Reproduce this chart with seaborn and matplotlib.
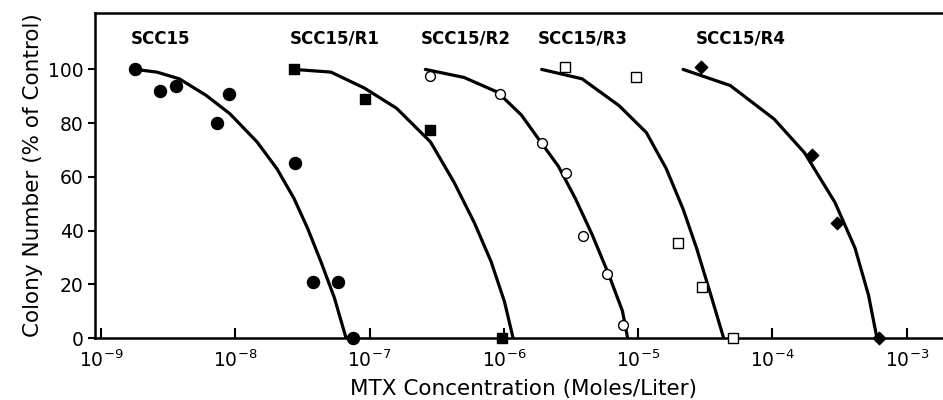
import numpy as np
import pandas as pd
import matplotlib
matplotlib.use("Agg")
import matplotlib.pyplot as plt
from matplotlib.ticker import NullLocator, LogFormatterMathtext
import seaborn as sns

# ---- data ----
series_names = ["SCC15", "SCC15/R1", "SCC15/R2", "SCC15/R3", "SCC15/R4"]

scc15_x = [1.80e-9, 2.75e-9, 3.61e-9, 7.31e-9, 8.99e-9, 2.76e-8, 3.77e-8, 5.85e-8, 7.53e-8]
scc15_y = [100, 92, 94, 80, 91, 65, 21, 21, 0]
scc15_fit_x = [1.80e-9, 2.60e-9, 3.82e-9, 6.07e-9, 9.10e-9, 1.45e-8, 2.04e-8, 2.73e-8, 3.44e-8, 4.33e-8, 5.46e-8, 6.67e-8]
scc15_fit_y = [100, 99, 96.5, 90.3, 83.5, 73, 63, 52, 41, 28.5, 15, 0]

r1_x = [2.72e-8, 9.18e-8, 2.83e-7, 9.70e-7]
r1_y = [100, 89, 77.5, 0]
r1_fit_x = [2.73e-8, 5.15e-8, 9.18e-8, 1.59e-7, 2.84e-7, 4.25e-7, 6.01e-7, 8.02e-7, 1.01e-6, 1.17e-6]
r1_fit_y = [100, 99, 93, 85.5, 73, 58, 43, 28.5, 13.5, 0]

r2_x = [2.80e-7, 9.42e-7, 1.91e-6, 2.91e-6, 3.89e-6, 5.82e-6, 7.76e-6]
r2_y = [97.5, 91, 72.5, 61.5, 38, 24, 5]
r2_fit_x = [2.60e-7, 5.05e-7, 8.99e-7, 1.35e-6, 1.91e-6, 2.54e-6, 3.40e-6, 4.54e-6, 6.05e-6, 7.64e-6, 8.34e-6]
r2_fit_y = [100, 97, 91.5, 83, 72.5, 64, 52, 38.5, 23.5, 10, 0]

r3_x = [2.86e-6, 9.62e-6, 1.98e-5, 2.97e-5, 5.05e-5]
r3_y = [101, 97, 35.5, 19, 0]
r3_fit_x = [1.91e-6, 3.82e-6, 7.21e-6, 1.15e-5, 1.62e-5, 2.16e-5, 2.72e-5, 3.43e-5, 4.33e-5]
r3_fit_y = [100, 96.5, 86.5, 76.5, 63, 48, 33.5, 17, 0]

r4_x = [2.92e-5, 1.97e-4, 3.03e-4, 6.18e-4]
r4_y = [101, 68, 43, 0]
r4_fit_x = [2.16e-5, 4.85e-5, 1.03e-4, 1.73e-4, 2.92e-4, 4.12e-4, 5.19e-4, 6.00e-4]
r4_fit_y = [100, 94, 81.5, 69, 50.5, 33.5, 16, 0]

x_ticks = [1e-9, 1e-8, 1e-7, 1e-6, 1e-5, 1e-4, 1e-3]
y_ticks = [0, 20, 40, 60, 80, 100]
x_label = "MTX Concentration (Moles/Liter)"
y_label = "Colony Number (% of Control)"

# ---- style ----
sns.set_style("ticks")
plt.rcParams["font.family"] = ["DejaVu Sans"]
plt.rcParams["mathtext.default"] = "regular"
plt.rcParams["text.color"] = "black"
plt.rcParams["axes.labelcolor"] = "black"
plt.rcParams["xtick.color"] = "black"
plt.rcParams["ytick.color"] = "black"
plt.rcParams["lines.solid_joinstyle"] = "round"

fig = plt.figure(figsize=(9.43, 4.0), dpi=100)
ax = fig.add_axes([0.1007, 0.155, 0.9093, 0.8125])

styles = [
    dict(marker="o", facecolor="black", size=75),
    dict(marker="s", facecolor="black", size=60),
    dict(marker="o", facecolor="white", size=50),
    dict(marker="s", facecolor="white", size=50),
    dict(marker="D", facecolor="black", size=40),
]
label_shift = [0.93, 0.93, 0.93, 0.93, 1.25]
points = [(scc15_x, scc15_y), (r1_x, r1_y), (r2_x, r2_y), (r3_x, r3_y), (r4_x, r4_y)]
fits = [(scc15_fit_x, scc15_fit_y), (r1_fit_x, r1_fit_y), (r2_fit_x, r2_fit_y),
        (r3_fit_x, r3_fit_y), (r4_fit_x, r4_fit_y)]

for name, (fx, fy), (px, py), st, sh in zip(series_names, fits, points, styles, label_shift):
    fdf = pd.DataFrame({"x": fx, "y": fy})
    sns.lineplot(data=fdf, x="x", y="y", ax=ax, color="black", linewidth=2.3,
                 sort=False, estimator=None, legend=False)
    pdf = pd.DataFrame({"x": px, "y": py})
    sns.scatterplot(data=pdf, x="x", y="y", ax=ax, marker=st["marker"],
                    s=st["size"], color=st["facecolor"], edgecolor="black",
                    linewidth=1.0, zorder=5, legend=False, clip_on=False)
    ax.text(fx[0] * sh, 111.5, name, ha="left", va="center",
            fontsize=12, fontweight="bold", color="black")

ax.set_xscale("log")
ax.set_xlim(9.0e-10, 2.19e-3)
ax.set_ylim(0, 121)
ax.set_xticks(x_ticks)
ax.xaxis.set_major_formatter(LogFormatterMathtext())
ax.xaxis.set_minor_locator(NullLocator())
ax.set_yticks(y_ticks)

ax.tick_params(axis="x", direction="in", length=7, width=1.5, labelsize=13.5, pad=8)
ax.tick_params(axis="y", direction="out", length=5, width=1.5, labelsize=13.5, pad=3)

for side in ["left", "top", "bottom"]:
    ax.spines[side].set_linewidth(1.8)
    ax.spines[side].set_color("black")
ax.spines["right"].set_visible(False)

ax.set_xlabel(x_label, fontsize=15.5, labelpad=6)
ax.set_ylabel(y_label, fontsize=15.5, labelpad=4)

fig.savefig("out.png", dpi=100)
